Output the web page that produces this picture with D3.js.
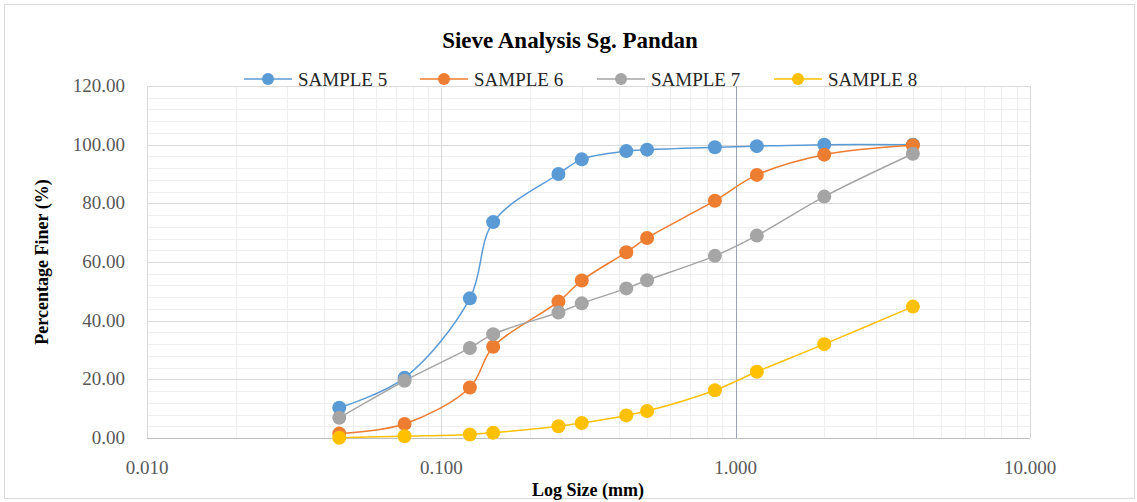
<!DOCTYPE html>
<html>
<head>
<meta charset="utf-8">
<script src="https://cdn.jsdelivr.net/npm/d3@7"></script>
<style>
  body { margin: 0; background: #fff; }
  svg text { font-family: "Liberation Serif", "Times New Roman", serif; }
</style>
</head>
<body>
<div id="chart"></div>
<script>
// Sieve sizes (mm) and percentage finer for each sample
const sieveSizes = [0.045, 0.075, 0.125, 0.15, 0.25, 0.3, 0.425, 0.5, 0.85, 1.18, 2, 4];
const sample5 = [10.3, 20.5, 47.6, 73.6, 90.0, 95.0, 97.8, 98.3, 99.1, 99.5, 100.0, 100.0];
const sample6 = [1.5, 4.8, 17.2, 31.1, 46.5, 53.7, 63.3, 68.2, 80.9, 89.7, 96.6, 99.8];
const sample7 = [6.9, 19.5, 30.7, 35.4, 42.8, 45.9, 51.0, 53.8, 62.1, 69.0, 82.3, 96.9];
const sample8 = [0.1, 0.6, 1.2, 1.8, 4.0, 5.1, 7.7, 9.2, 16.3, 22.6, 32.0, 44.8];
const seriesNames = ["SAMPLE 5", "SAMPLE 6", "SAMPLE 7", "SAMPLE 8"];
const seriesColors = ["#5b9bd5", "#ed7d31", "#a5a5a5", "#ffc000"];
const xTicks = [0.01, 0.1, 1, 10];
const yTicks = [0, 20, 40, 60, 80, 100, 120];

const width = 1137;
const height = 502;

const svg = d3.select("#chart")
    .append("svg")
    .attr("width", width)
    .attr("height", height);

// chart border
svg.append("rect")
    .attr("x", 4.5).attr("y", 4.5)
    .attr("width", 1130).attr("height", 494)
    .attr("fill", "#fff")
    .attr("stroke", "#d9d9d9");

const x = d3.scaleLog().domain([0.01, 10]).range([147, 1030]);
const y = d3.scaleLinear().domain([0, 120]).range([438, 86]);

// minor gridlines
const minorX = [];
[0.01, 0.1, 1].forEach(d => {
    for (let k = 2; k <= 9; k++) minorX.push(d * k);
});
const minorY = d3.range(0, 121, 4).filter(v => v % 20 !== 0);

const grid = svg.append("g");
grid.selectAll(".minor-x")
    .data(minorX)
    .enter().append("line")
    .attr("x1", d => Math.round(x(d)) + 0.5).attr("x2", d => Math.round(x(d)) + 0.5)
    .attr("y1", y(120)).attr("y2", y(0))
    .attr("stroke", "#efefef");
grid.selectAll(".minor-y")
    .data(minorY)
    .enter().append("line")
    .attr("x1", x(0.01)).attr("x2", x(10))
    .attr("y1", d => Math.round(y(d)) + 0.5).attr("y2", d => Math.round(y(d)) + 0.5)
    .attr("stroke", "#efefef");
grid.selectAll(".major-x")
    .data(xTicks)
    .enter().append("line")
    .attr("x1", d => Math.round(x(d)) + 0.5).attr("x2", d => Math.round(x(d)) + 0.5)
    .attr("y1", y(120)).attr("y2", y(0))
    .attr("stroke", "#d9d9d9");
grid.selectAll(".major-y")
    .data(yTicks)
    .enter().append("line")
    .attr("x1", x(0.01)).attr("x2", x(10))
    .attr("y1", d => Math.round(y(d)) + 0.5).attr("y2", d => Math.round(y(d)) + 0.5)
    .attr("stroke", "#d9d9d9");

// axis lines: value axis crosses at 1.0, category axis at 0
svg.append("line")
    .attr("x1", Math.round(x(1)) + 0.5).attr("x2", Math.round(x(1)) + 0.5)
    .attr("y1", y(120)).attr("y2", y(0))
    .attr("stroke", "#9aa3b2");
svg.append("line")
    .attr("x1", x(0.01)).attr("x2", x(10))
    .attr("y1", Math.round(y(0)) + 0.5).attr("y2", Math.round(y(0)) + 0.5)
    .attr("stroke", "#bfbfbf");

// tick labels
svg.append("g").selectAll("text")
    .data(yTicks)
    .enter().append("text")
    .attr("x", 125)
    .attr("y", d => y(d) + 6)
    .attr("text-anchor", "end")
    .attr("font-size", 19)
    .attr("fill", "#595959")
    .text(d3.format(".2f"));

svg.append("g").selectAll("text")
    .data(xTicks)
    .enter().append("text")
    .attr("x", d => x(d))
    .attr("y", 474)
    .attr("text-anchor", "middle")
    .attr("font-size", 19)
    .attr("fill", "#595959")
    .text(d3.format(".3f"));

// titles
svg.append("text")
    .attr("x", 570).attr("y", 48)
    .attr("text-anchor", "middle")
    .attr("font-size", 23)
    .attr("font-weight", "bold")
    .attr("fill", "#000")
    .text("Sieve Analysis Sg. Pandan");

svg.append("text")
    .attr("x", 588).attr("y", 496)
    .attr("text-anchor", "middle")
    .attr("font-size", 18)
    .attr("font-weight", "bold")
    .attr("fill", "#000")
    .text("Log Size (mm)");

svg.append("text")
    .attr("transform", "translate(48,262) rotate(-90)")
    .attr("text-anchor", "middle")
    .attr("font-size", 18)
    .attr("font-weight", "bold")
    .attr("fill", "#000")
    .text("Percentage Finer (%)");

// series
const allSeries = [sample5, sample6, sample7, sample8].map((vals, i) => ({
    name: seriesNames[i],
    color: seriesColors[i],
    points: vals.map((v, j) => ({ size: sieveSizes[j], value: v }))
}));

const line = d3.line()
    .x(d => x(d.size))
    .y(d => y(d.value))
    .curve(d3.curveCatmullRom.alpha(0.5));

allSeries.forEach(s => {
    const g = svg.append("g");
    g.append("path")
        .datum(s.points)
        .attr("d", line)
        .attr("fill", "none")
        .attr("stroke", s.color)
        .attr("stroke-width", 1.5);
    g.selectAll("circle")
        .data(s.points)
        .enter().append("circle")
        .attr("cx", d => x(d.size))
        .attr("cy", d => y(d.value))
        .attr("r", 7)
        .attr("fill", s.color);
});

// legend
const legendX = [244, 420, 597, 774];
const legend = svg.append("g");
allSeries.forEach((s, i) => {
    const item = legend.append("g").attr("transform", `translate(${legendX[i]},79)`);
    item.append("line")
        .attr("x1", 0).attr("x2", 48)
        .attr("stroke", s.color)
        .attr("stroke-width", 1.5);
    item.append("circle")
        .attr("cx", 24).attr("r", 6)
        .attr("fill", s.color);
    item.append("text")
        .attr("x", 54).attr("y", 7)
        .attr("font-size", 19)
        .attr("fill", "#262626")
        .text(s.name);
});
</script>
</body>
</html>
